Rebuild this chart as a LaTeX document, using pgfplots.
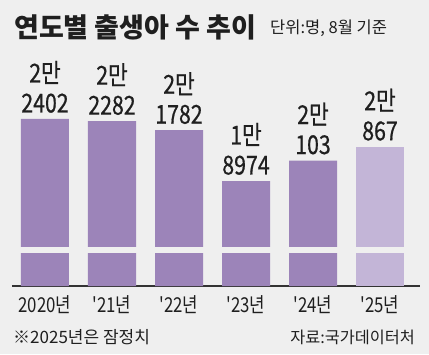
\documentclass[border=0pt]{standalone}
\usepackage{fontspec}
\setmainfont{Noto Sans CJK KR}
\newfontfamily\cond[FakeStretch=0.82]{Noto Sans CJK KR}
\newfontfamily\condb[FakeStretch=0.82,FakeBold=0.6]{Noto Sans CJK KR}
\usepackage{pgfplots}
\pgfplotsset{compat=1.18}
\definecolor{bg}{HTML}{EFEFEF}
\definecolor{barc}{HTML}{9C84B9}
\definecolor{barl}{HTML}{C3B5D7}
\definecolor{txt}{HTML}{1F1F1F}
\definecolor{axc}{HTML}{333333}
\begin{document}
\begin{tikzpicture}
\path[use as bounding box, fill=bg] (0pt,0pt) rectangle (429pt,354pt);
\node[anchor=base west, font=\bfseries\fontsize{27}{27}\selectfont, inner sep=0, text=txt] at (14pt,316pt) {연도별 출생아 수 추이};
\node[anchor=base west, font=\fontsize{16.5}{16.5}\selectfont, inner sep=0, text=txt] at (270pt,320pt) {단위:명, 8월 기준};
\begin{axis}[
  at={(12pt,68pt)}, anchor=south west, scale only axis,
  width=408pt, height=214pt,
  xmin=-0.4925, xmax=5.597, ymin=13170, ymax=25000,
  hide y axis, axis x line*=bottom,
  axis line style={-, draw=axc, line width=1.4pt},
  xtick={0,...,5},
  xticklabels={2020년,'21년,'22년,'23년,'24년,'25년},
  xtick style={draw=none},
  xticklabel style={font=\cond\fontsize{20.5}{20.5}\selectfont, text=txt, inner sep=0pt, anchor=north, yshift=-9pt},
  nodes near coords style={font=\condb\fontsize{26}{30}\selectfont, text=txt, align=center, anchor=south, inner sep=0pt, yshift=6pt},
]
\addplot[ybar, bar shift=0pt, bar width=48pt, fill=barc, draw=none,
  nodes near coords, point meta=explicit symbolic]
  coordinates {(0,22402) [2만\\2402] (1,22282) [2만\\2282] (2,21782) [2만\\1782] (3,18974) [1만\\8974] (4,20103) [2만\\103]};
\addplot[ybar, bar shift=0pt, bar width=48pt, fill=barl, draw=none,
  nodes near coords, point meta=explicit symbolic]
  coordinates {(5,20867) [2만\\867]};
\fill[bg] (axis cs:-0.49,15000) rectangle (axis cs:5.59,15330);
\end{axis}
\node[anchor=base west, font=\fontsize{17}{17}\selectfont, inner sep=0, text=txt] at (13pt,10pt) {※2025년은 잠정치};
\node[anchor=base east, font=\fontsize{16.3}{16.3}\selectfont, inner sep=0, text=txt] at (415pt,10pt) {자료:국가데이터처};
\end{tikzpicture}
\end{document}
